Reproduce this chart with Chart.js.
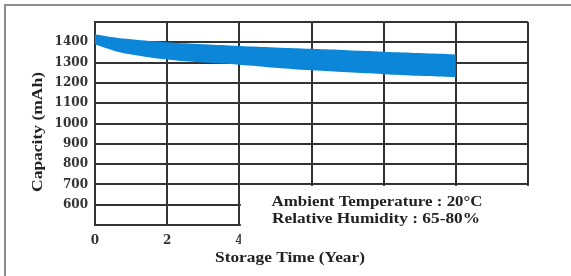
<!DOCTYPE html>
<html>
<head>
<meta charset="utf-8">
<script src="https://cdn.jsdelivr.net/npm/chart.js@4/dist/chart.umd.min.js"></script>
<style>
  body { margin: 0; background: #fff; }
  canvas { display: block; }
</style>
</head>
<body>
<canvas id="chart-capacidad" width="571" height="276"></canvas>
<script>
/* Datos */
var anios = [0, 0.5, 1, 2, 3, 4, 5, 6, 7, 8, 9, 10];
var capacidadAlta = [1440, 1425, 1415, 1400, 1390, 1382, 1375, 1368, 1361, 1354, 1347, 1340];
var capacidadBaja = [1390, 1360, 1340, 1315, 1300, 1290, 1275, 1262, 1252, 1243, 1235, 1228];
var ticksX = [0, 2, 4, 6, 8, 10];
var ticksY = [600, 700, 800, 900, 1000, 1100, 1200, 1300, 1400];
var notas = ["Ambient Temperature : 20\u00B0C", "Relative Humidity : 65-80%"];
var tituloX = "Storage Time (Year)";
var tituloY = "Capacity (mAh)";

var colorLinea = "#333";
var colorBanda = "#0b86d8";

var puntosAlta = anios.map((a, i) => ({ x: a, y: capacidadAlta[i] }));
var puntosBaja = anios.map((a, i) => ({ x: a, y: capacidadBaja[i] }));

// texto ajustado a un ancho (la fuente original es más ancha)
function textoAjustado(ctx, texto, cx, cy, ancho, rot) {
  var w = ctx.measureText(texto).width;
  ctx.save();
  ctx.translate(cx, cy);
  if (rot) ctx.rotate(rot);
  ctx.scale(ancho / w, 1);
  ctx.fillText(texto, 0, 0);
  ctx.restore();
}

var pluginExtras = {
  id: "extras",
  beforeDraw: function(chart) {
    var ctx = chart.ctx;
    ctx.save();
    ctx.fillStyle = "#fff";
    ctx.fillRect(0, 0, chart.width, chart.height);
    // marco exterior
    ctx.strokeStyle = "#8c8c8c";
    ctx.lineWidth = 2;
    ctx.beginPath();
    ctx.moveTo(5, chart.height);
    ctx.lineTo(5, 5);
    ctx.lineTo(chart.width, 5);
    ctx.stroke();
    ctx.restore();
  },
  beforeDatasetsDraw: function(chart) {
    // zona blanca para las notas (abajo a la derecha)
    var ctx = chart.ctx;
    var x = chart.scales.x, y = chart.scales.y;
    ctx.save();
    ctx.fillStyle = "#fff";
    ctx.fillRect(x.getPixelForValue(4) + 1.5, y.getPixelForValue(700) + 1.5,
      chart.width, chart.height);
    ctx.restore();
  },
  afterDraw: function(chart) {
    var ctx = chart.ctx;
    ctx.save();
    ctx.fillStyle = "#222";
    ctx.textAlign = "center";
    ctx.textBaseline = "middle";
    ctx.font = "bold 15px 'Liberation Serif'";
    textoAjustado(ctx, notas[0], 377, 202, 211);
    textoAjustado(ctx, notas[1], 376, 219, 208);
    textoAjustado(ctx, tituloX, 290, 258, 150);
    textoAjustado(ctx, tituloY, 38, 132, 120, -Math.PI / 2);
    ctx.restore();
  }
};

var fuenteTicks = { family: "'DejaVu Serif'", size: 12, weight: "bold" };

new Chart(document.getElementById("chart-capacidad").getContext("2d"), {
  type: "line",
  data: {
    datasets: [{
        label: "Alta",
        data: puntosAlta,
        borderWidth: 0,
        pointRadius: 0,
        tension: 0.4,
        fill: false
      },
      {
        label: "Baja",
        data: puntosBaja,
        borderWidth: 0,
        pointRadius: 0,
        tension: 0.4,
        backgroundColor: colorBanda,
        fill: "-1"
      }
    ]
  },
  options: {
    responsive: false,
    animation: false,
    layout: { padding: { left: 0, top: 22, right: 43, bottom: 0 } },
    plugins: {
      legend: { display: false },
      tooltip: { enabled: false }
    },
    scales: {
      x: {
        type: "linear",
        min: 0,
        max: 12,
        afterFit: function(scale) { scale.height = 51; },
        afterBuildTicks: function(scale) {
          scale.ticks = [0, 2, 4, 6, 8, 10, 12].map(v => ({ value: v }));
        },
        grid: { color: colorLinea, lineWidth: 2, drawTicks: false },
        border: { color: colorLinea, width: 2 },
        ticks: {
          padding: 9,
          color: "#333",
          font: fuenteTicks,
          maxRotation: 0,
          callback: v => ticksX.includes(v) ? String(v) : ""
        }
      },
      y: {
        min: 500,
        max: 1500,
        afterFit: function(scale) { scale.width = 95; },
        grid: { color: colorLinea, lineWidth: 2, drawTicks: false },
        border: { color: colorLinea, width: 2 },
        ticks: {
          stepSize: 100,
          padding: 7,
          color: "#333",
          font: fuenteTicks,
          callback: v => ticksY.includes(v) ? String(v) : ""
        }
      }
    }
  },
  plugins: [pluginExtras]
});
</script>
</body>
</html>
